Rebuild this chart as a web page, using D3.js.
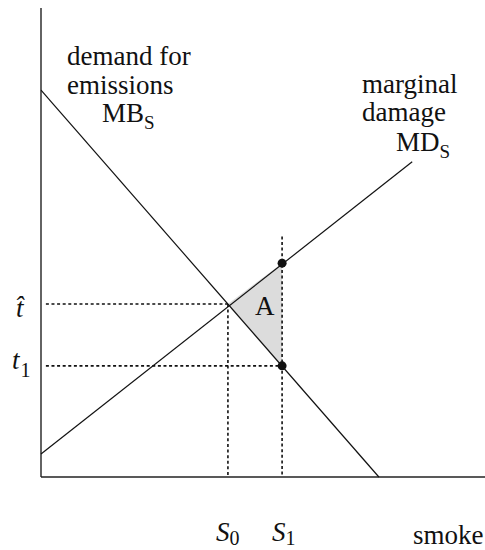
<!DOCTYPE html>
<html><head><meta charset="utf-8">
<script src="https://cdn.jsdelivr.net/npm/d3@7"></script>
<style>
html,body{margin:0;padding:0;background:#fff;}
</style></head>
<body><svg id="c" width="485" height="550" font-family="'Liberation Serif', 'DejaVu Serif', serif"></svg>
<script>
// Data (abstract units: x = smoke, y = price/tax)
const mbLine = [{x:0,y:82.5},{x:76.1,y:0}];          // demand for emissions MB_S
const mdLine = [{x:0,y:4.9},{x:83.6,y:67.2}];         // marginal damage MD_S
const S0 = 42.1, S1 = 54.3;
const tHat = 36.9, t1 = 23.7;
const mdAtS1 = 45.6;
const xTickLabels = ["0","1"];   // subscripts of S
const yTickLabels = ["t\u0302","1"];

const svg = d3.select("#c");
const x = d3.scaleLinear().domain([0,100]).range([41,485]);
const y = d3.scaleLinear().domain([0,100]).range([477,8]);

svg.append("path")
  .attr("d", d3.line().x(d=>x(d.x)).y(d=>y(d.y))([{x:S0,y:tHat},{x:S1,y:mdAtS1},{x:S1,y:t1}]) + "Z")
  .attr("fill","#dcdcdc").attr("stroke","none");

svg.append("line").attr("x1",x(0)).attr("x2",x(0)).attr("y1",y(100)).attr("y2",y(0)).attr("stroke","#222").attr("stroke-width",1.4);
svg.append("line").attr("x1",x(0)).attr("x2",x(100)).attr("y1",y(0)).attr("y2",y(0)).attr("stroke","#222").attr("stroke-width",1.4);

const line = d3.line().x(d=>x(d.x)).y(d=>y(d.y));
svg.append("path").attr("d",line(mbLine)).attr("stroke","#111").attr("stroke-width",1.2).attr("fill","none");
svg.append("path").attr("d",line(mdLine)).attr("stroke","#111").attr("stroke-width",1.2).attr("fill","none");

const dot = {stroke:"#111","stroke-width":1.6,"stroke-dasharray":"3,2.6"};
function dl(x1,y1,x2,y2){
  const l = svg.append("line").attr("x1",x1).attr("y1",y1).attr("x2",x2).attr("y2",y2);
  for (const k in dot) l.attr(k,dot[k]);
}
dl(x(1.1), y(tHat), x(S0), y(tHat));
dl(x(1.1), y(t1), x(S1), y(t1));
dl(x(S0), y(tHat), x(S0), y(0));
dl(x(S1), y(51.3), x(S1), y(0));

svg.append("circle").attr("cx",x(S1)).attr("cy",y(mdAtS1)).attr("r",4.5).attr("fill","#111");
svg.append("circle").attr("cx",x(S1)).attr("cy",y(t1)).attr("r",4.5).attr("fill","#111");

const fs = 27, sub = 19;
function txt(xp,yp,s,opts={}){
  const t = svg.append("text").attr("x",xp).attr("y",yp).attr("font-size",opts.size||fs).attr("fill","#111").text(s);
  if (opts.italic) t.attr("font-style","italic");
  return t;
}
txt(67,65,"demand for");
txt(67,94,"emissions");
const mb = svg.append("text").attr("x",102).attr("y",122).attr("font-size",fs).attr("fill","#111");
mb.append("tspan").text("MB");
mb.append("tspan").attr("font-size",sub).attr("dy",7).text("S");

txt(362,93,"marginal");
txt(362,121,"damage");
const md = svg.append("text").attr("x",396).attr("y",151).attr("font-size",fs).attr("fill","#111");
md.append("tspan").text("MD");
md.append("tspan").attr("font-size",sub).attr("dy",7).text("S");

txt(255,315,"A");

// y labels
txt(16,y(tHat)+13,yTickLabels[0],{italic:true});
const tl = svg.append("text").attr("x",12).attr("y",y(t1)+3).attr("font-size",fs).attr("font-style","italic").attr("fill","#111");
tl.append("tspan").text("t");
tl.append("tspan").attr("font-style","normal").attr("font-size",sub+1).attr("dy",8).attr("dx",1).text(yTickLabels[1]);

// x labels
function sLab(xp, s){
  const t = svg.append("text").attr("x",xp).attr("y",541).attr("font-size",fs).attr("font-style","italic").attr("fill","#111");
  t.append("tspan").text("S");
  t.append("tspan").attr("font-style","normal").attr("font-size",sub+1).attr("dy",4).text(s);
}
sLab(x(S0)-12, xTickLabels[0]);
sLab(x(S1)-10, xTickLabels[1]);
txt(413,544,"smoke");
</script></body></html>
